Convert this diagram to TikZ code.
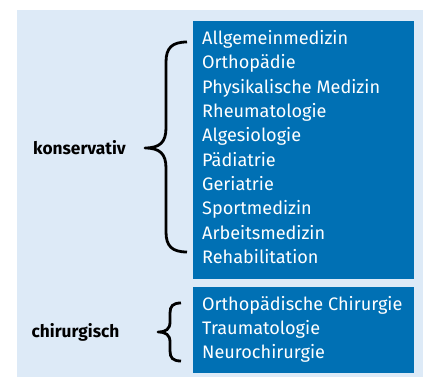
\documentclass[tikz,border=0pt]{standalone}
\usepackage{fontspec}
\setmainfont{Fira Sans}
\definecolor{bgblue}{RGB}{221,234,247}
\definecolor{boxblue}{RGB}{0,112,180}
\begin{document}
\begin{tikzpicture}[x=1pt,y=-1pt,
  bgrect/.style={fill=bgblue,draw=none},
  listbox/.style={fill=boxblue,draw=none},
  item/.style={anchor=base west,inner sep=0pt,text=white,font=\fontsize{18.1}{20}\selectfont},
  grouplabel/.style={anchor=center,inner sep=0pt,font=\fontsize{17.3}{20}\selectfont\bfseries},
  bracepath/.style={draw=black,line width=2.8pt,line cap=butt,line join=round}]
\useasboundingbox (0,0) rectangle (423,377);
\fill[bgrect] (17,10) rectangle (423,377);
\fill[listbox] (193,21) rectangle (414,279);
\fill[listbox] (193,287) rectangle (414,373);
\foreach \t [count=\i] in {Allgemeinmedizin,Orthopädie,Physikalische Medizin,Rheumatologie,Algesiologie,Pädiatrie,Geriatrie,Sportmedizin,Arbeitsmedizin,Rehabilitation}
  \node[item] (k\i) at (202,{44.5+(\i-1)*24.33}) {\t};
\foreach \t [count=\i] in {Orthopädische Chirurgie,Traumatologie,Neurochirurgie}
  \node[item] (c\i) at (202,{310.5+(\i-1)*24.1}) {\t};
\node[grouplabel] (kons) at (79.5,148) {konservativ};
\node[grouplabel] (chir) at (75.5,332) {chirurgisch};
\coordinate (kt) at (145,148);
\coordinate (ct) at (158,332);
\draw[bracepath] (187,42) .. controls (172,42) and (166,48) .. (166,62) -- (166,128)
  .. controls (166,142) and (160,148) .. (kt)
  .. controls (160,148) and (166,154) .. (166,168) -- (166,232)
  .. controls (166,246) and (172,252) .. (187,252);
\draw[bracepath] (181,303) .. controls (173,303) and (170,306) .. (170,313) -- (170,322)
  .. controls (170,329) and (166,332) .. (ct)
  .. controls (166,332) and (170,335) .. (170,342) -- (170,351)
  .. controls (170,358) and (173,361) .. (181,361);
\end{tikzpicture}
\end{document}
